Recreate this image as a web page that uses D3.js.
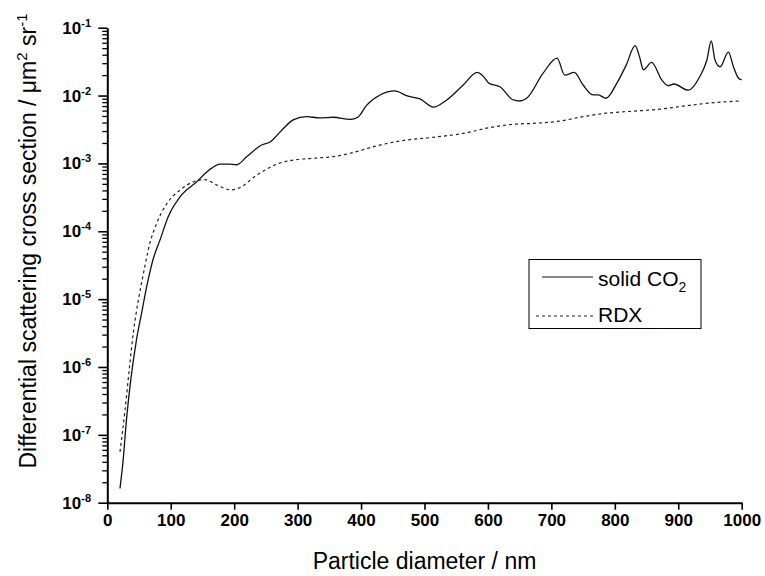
<!DOCTYPE html>
<html>
<head>
<meta charset="utf-8">
<script src="https://cdn.jsdelivr.net/npm/d3@7"></script>
<style>
  html, body { margin: 0; padding: 0; background: #fff; }
  svg { display: block; font-family: "Liberation Sans", Arial, sans-serif; }
</style>
</head>
<body>
<svg id="chart" width="765" height="576"></svg>
<script>
// ---- data ----
const co2X = [20, 25, 30, 37, 46, 54, 62, 72, 83, 96, 115, 141, 160, 178, 192, 204, 220, 241, 257, 275, 293, 314, 335, 356, 383, 395, 409, 430, 453, 474, 493, 514, 535, 561, 583, 592, 602, 619, 640, 650, 661, 687, 709, 721, 736, 750, 766, 774, 786, 803, 818, 832, 839, 845, 858, 874, 884, 893, 916, 934, 945, 952, 958, 966, 979, 987, 995, 1000];
const co2Y = [1.62e-8, 4.27e-8, 1.58e-7, 6.46e-7, 2.51e-6, 6.17e-6, 1.51e-5, 3.80e-5, 7.41e-5, 1.64e-4, 3.24e-4, 5.37e-4, 7.94e-4, 9.77e-4, 9.77e-4, 9.55e-4, 1.26e-3, 1.82e-3, 2.09e-3, 3.09e-3, 4.37e-3, 4.90e-3, 4.68e-3, 4.79e-3, 4.45e-3, 4.80e-3, 7.24e-3, 1.02e-2, 1.17e-2, 9.77e-3, 8.91e-3, 6.76e-3, 8.61e-3, 1.43e-2, 2.20e-2, 1.95e-2, 1.51e-2, 1.35e-2, 8.61e-3, 8.32e-3, 9.12e-3, 2.14e-2, 3.55e-2, 2.00e-2, 2.19e-2, 1.43e-2, 1.02e-2, 1.02e-2, 9.12e-3, 1.51e-2, 2.82e-2, 5.43e-2, 3.72e-2, 2.40e-2, 3.09e-2, 1.70e-2, 1.40e-2, 1.48e-2, 1.20e-2, 1.91e-2, 3.31e-2, 6.37e-2, 3.31e-2, 2.66e-2, 4.37e-2, 2.66e-2, 1.80e-2, 1.70e-2];
const rdxX = [20, 28, 35, 41, 49, 57, 67, 78, 94, 115, 136, 154, 173, 195, 214, 230, 250, 270, 293, 330, 356, 383, 425, 461, 514, 566, 598, 645, 671, 714, 750, 787, 829, 871, 913, 955, 1000];
const rdxY = [5.62e-8, 2.34e-7, 1.0e-6, 3.16e-6, 9.77e-6, 2.40e-5, 6.61e-5, 1.32e-4, 2.57e-4, 4.07e-4, 5.37e-4, 5.75e-4, 4.79e-4, 4.07e-4, 4.68e-4, 6.17e-4, 8.13e-4, 1.0e-3, 1.12e-3, 1.20e-3, 1.26e-3, 1.41e-3, 1.82e-3, 2.14e-3, 2.43e-3, 2.82e-3, 3.31e-3, 3.80e-3, 3.89e-3, 4.22e-3, 4.90e-3, 5.50e-3, 5.89e-3, 6.31e-3, 7.08e-3, 7.85e-3, 8.32e-3];
const xTicks = [0, 100, 200, 300, 400, 500, 600, 700, 800, 900, 1000];
const yTickExponents = [-8, -7, -6, -5, -4, -3, -2, -1];
const yMajorTicks = [1e-8, 1e-7, 1e-6, 1e-5, 1e-4, 1e-3, 1e-2, 1e-1];
const seriesNames = ["solid CO", "RDX"];
const xTitle = "Particle diameter / nm";

// ---- layout ----
const svg = d3.select("#chart");
const pLeft = 107.3, pRight = 741.7, pTop = 27.7, pBottom = 502.7;

const x = d3.scaleLinear().domain([0, 1000]).range([pLeft, pRight]);
const y = d3.scaleLog().domain([1e-8, 1e-1]).range([pBottom, pTop]);

// minor ticks
const yMinor = [];
yMajorTicks.slice(0, -1).forEach(m => { for (let k = 2; k <= 9; k++) yMinor.push(m * k); });

// y axis minor
svg.append("g").attr("transform", `translate(${pLeft},0)`)
  .call(d3.axisLeft(y).tickValues(yMinor).tickSize(5).tickFormat(""))
  .call(g => g.select(".domain").remove())
  .call(g => g.selectAll("line").attr("stroke", "#000").attr("stroke-width", 1.3));

// y axis major
const yAx = svg.append("g").attr("transform", `translate(${pLeft},0)`)
  .call(d3.axisLeft(y).tickValues(yMajorTicks).tickSize(9).tickSizeOuter(0).tickFormat(""));
yAx.select(".domain").attr("stroke", "#000").attr("stroke-width", 2);
yAx.selectAll("line").attr("stroke", "#000").attr("stroke-width", 1.6);

// y tick labels
yTickExponents.forEach((e, i) => {
  const t = svg.append("text")
    .attr("x", pLeft - 45).attr("y", y(yMajorTicks[i]) + 6)
    .attr("font-size", 17).attr("font-weight", "bold").attr("fill", "#000");
  t.append("tspan").text("10");
  t.append("tspan").attr("dy", -7).attr("font-size", 11).text(String(e));
});

// x axis
const xAx = svg.append("g").attr("transform", `translate(0,${pBottom})`)
  .call(d3.axisBottom(x).tickValues(xTicks).tickSize(7).tickSizeOuter(0).tickPadding(4).tickFormat(d3.format("d")));
xAx.select(".domain").attr("stroke", "#000").attr("stroke-width", 2);
xAx.selectAll("line").attr("stroke", "#000").attr("stroke-width", 1.6);
xAx.selectAll("text").attr("font-size", 17).attr("font-weight", "bold").attr("fill", "#000")
  .attr("font-family", "Liberation Sans, Arial, sans-serif");

// x title
svg.append("text").attr("x", (pLeft + pRight) / 2).attr("y", 569)
  .attr("text-anchor", "middle").attr("font-size", 23).attr("fill", "#000").text(xTitle);

// y title
const yt = svg.append("text").attr("transform", "translate(36,241) rotate(-90)")
  .attr("text-anchor", "middle").attr("font-size", 23).attr("fill", "#000");
yt.append("tspan").text("Differential scattering cross section / \u03BCm");
yt.append("tspan").attr("dy", -9).attr("font-size", 15).text("2");
yt.append("tspan").attr("dy", 9).text(" sr");
yt.append("tspan").attr("dy", -9).attr("font-size", 15).text("-1");

// curves
const line = d3.line().x(d => x(d[0])).y(d => y(d[1])).curve(d3.curveMonotoneX);
const co2 = co2X.map((v, i) => [v, co2Y[i]]);
const rdx = rdxX.map((v, i) => [v, rdxY[i]]);

svg.append("path").datum(rdx).attr("d", line).attr("fill", "none")
  .attr("stroke", "#222").attr("stroke-width", 1.2).attr("stroke-dasharray", "3,3");
svg.append("path").datum(co2).attr("d", line).attr("fill", "none")
  .attr("stroke", "#111").attr("stroke-width", 1.3);

// legend
const lg = svg.append("g");
lg.append("rect").attr("x", 529).attr("y", 259.5).attr("width", 172).attr("height", 69)
  .attr("fill", "#fff").attr("stroke", "#000").attr("stroke-width", 1);
lg.append("line").attr("x1", 542).attr("x2", 593).attr("y1", 277).attr("y2", 277)
  .attr("stroke", "#111").attr("stroke-width", 1.2);
lg.append("line").attr("x1", 536).attr("x2", 593).attr("y1", 316).attr("y2", 316)
  .attr("stroke", "#222").attr("stroke-width", 1.2).attr("stroke-dasharray", "3,3");
const l1 = lg.append("text").attr("x", 598).attr("y", 286).attr("font-size", 21).attr("fill", "#000");
l1.append("tspan").text(seriesNames[0]);
l1.append("tspan").attr("dy", 6).attr("font-size", 14).text("2");
lg.append("text").attr("x", 598).attr("y", 321.5).attr("font-size", 21).attr("fill", "#000").text(seriesNames[1]);
</script>
</body>
</html>
